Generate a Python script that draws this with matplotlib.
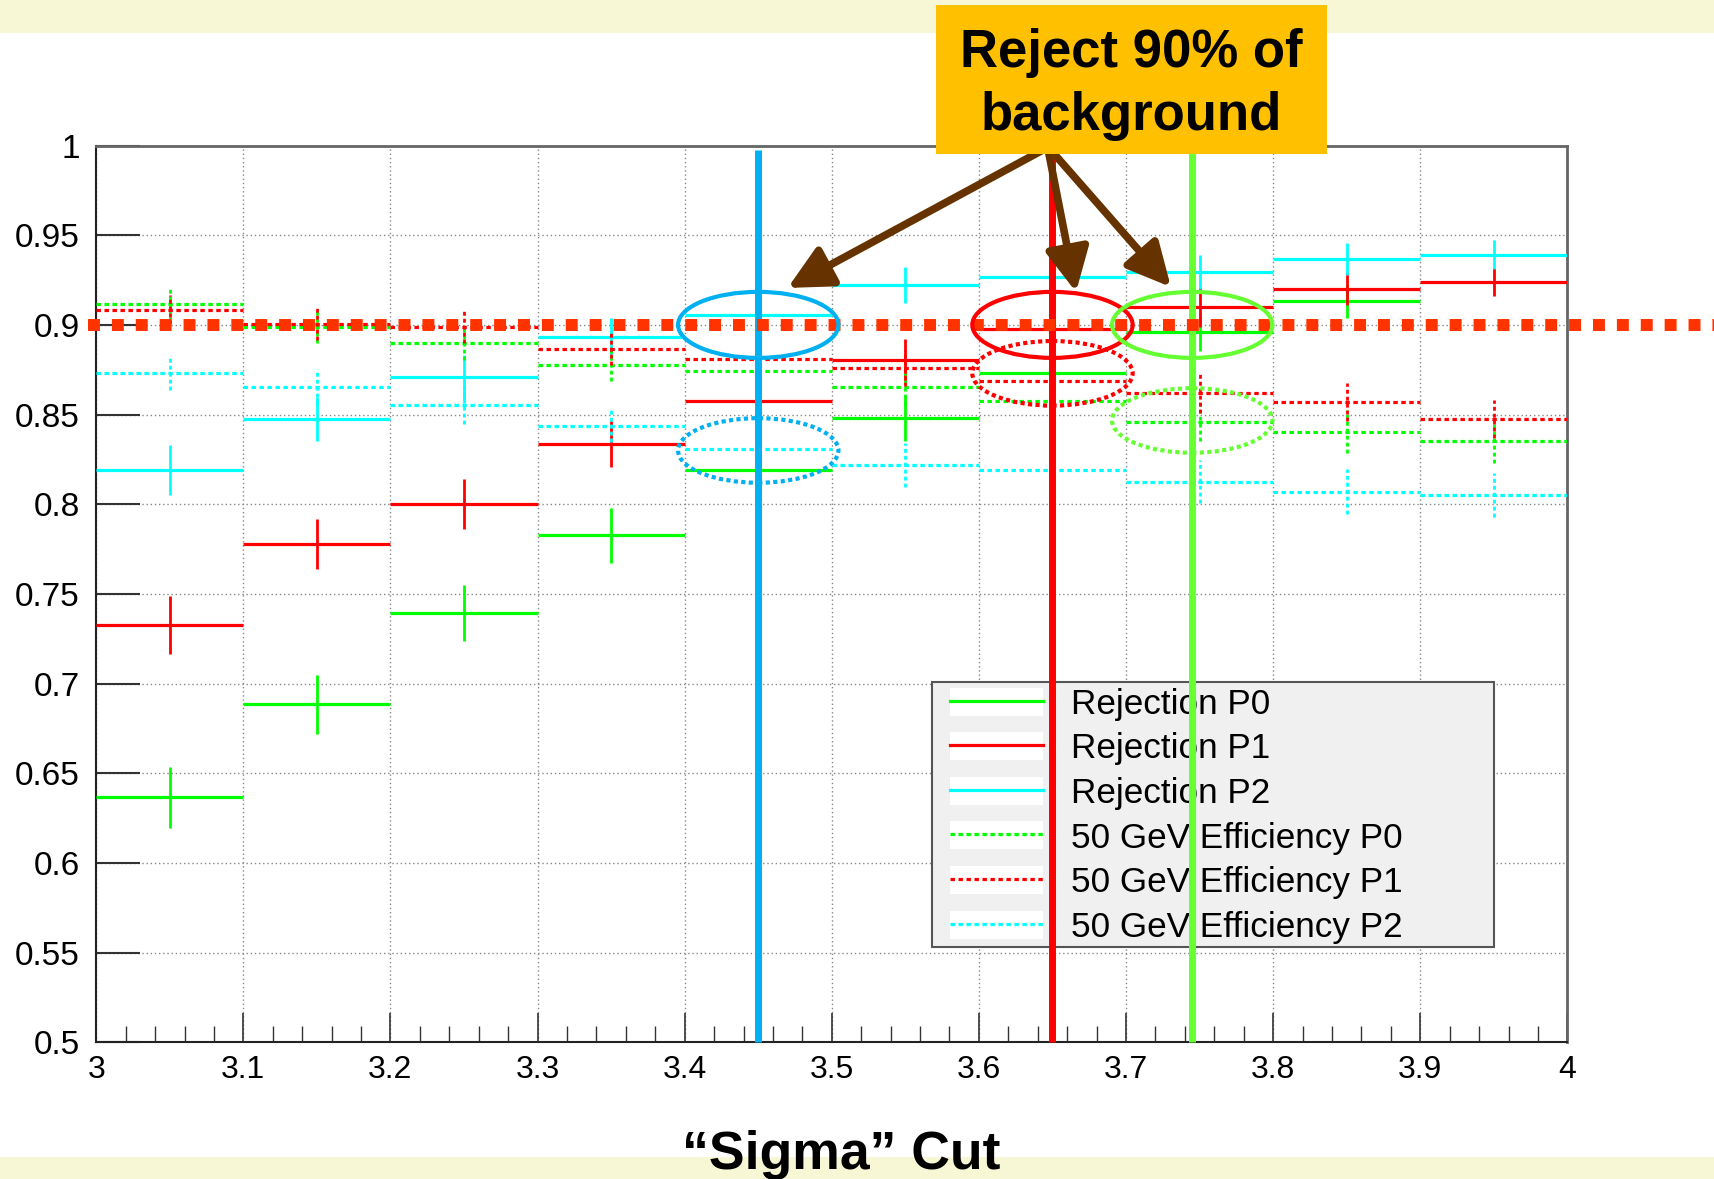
import matplotlib.pyplot as plt
from matplotlib.patches import Ellipse, Rectangle, FancyArrowPatch
from matplotlib.lines import Line2D
from matplotlib.ticker import MultipleLocator
import numpy as np

plt.rcParams['font.family'] = ['Liberation Sans', 'DejaVu Sans']

# sigma cut bins
sigma_edges = [3.0, 3.1, 3.2, 3.3, 3.4, 3.5, 3.6, 3.7, 3.8, 3.9, 4.0]

# background rejection per sigma cut
rej_p0 = [0.6367, 0.6885, 0.7393, 0.7826, 0.8191, 0.8479, 0.8732, 0.8960, 0.9133, np.nan]
rej_p0_err = [0.017, 0.0165, 0.0156, 0.0153, 0.014, 0.0125, 0.012, 0.0105, 0.0097, np.nan]
rej_p1 = [0.7326, 0.7777, 0.8000, 0.8336, 0.8576, 0.8805, 0.8975, 0.9100, 0.9202, 0.9239]
rej_p1_err = [0.016, 0.014, 0.014, 0.013, 0.012, 0.0116, 0.011, 0.011, 0.0093, 0.008]
rej_p2 = [0.8193, 0.8475, 0.8707, 0.8933, 0.9055, 0.9222, 0.9265, 0.9294, 0.9368, 0.9392]
rej_p2_err = [0.014, 0.0125, 0.0125, 0.0105, 0.010, 0.010, 0.0095, 0.0093, 0.0088, 0.0083]

# 50 GeV signal efficiency per sigma cut
eff_p0 = [0.9114, 0.8990, 0.8897, 0.8775, 0.8744, 0.8656, 0.8577, 0.8460, 0.8404, 0.8352]
eff_p0_err = [0.009, 0.009, 0.009, 0.009, 0.010, 0.010, 0.011, 0.011, 0.012, 0.012]
eff_p1 = [0.9085, 0.9005, 0.8990, 0.8868, 0.8810, 0.8758, 0.8689, 0.8618, 0.8570, 0.8478]
eff_p1_err = [0.008, 0.009, 0.009, 0.009, 0.010, 0.010, 0.011, 0.011, 0.0106, 0.0106]
eff_p2 = [0.8731, 0.8656, 0.8553, 0.8436, 0.8306, 0.8219, 0.8191, 0.8126, 0.8070, 0.8052]
eff_p2_err = [0.0093, 0.0097, 0.0105, 0.009, 0.011, 0.012, 0.012, 0.012, 0.0125, 0.0125]

labels = ['Rejection P0', 'Rejection P1', 'Rejection P2',
          '50 GeV Efficiency P0', '50 GeV Efficiency P1', '50 GeV Efficiency P2']

# 90% rejection working points
cut_level = 0.9
cut_points = [3.45, 3.65, 3.745]
cut_colors = ['#00B0F0', '#FF0000', '#66FF33']
eff_at_cut = [0.830, 0.873, 0.8467]

x_ticks = [3.0, 3.1, 3.2, 3.3, 3.4, 3.5, 3.6, 3.7, 3.8, 3.9, 4.0]
x_ticklabels = ['3', '3.1', '3.2', '3.3', '3.4', '3.5', '3.6', '3.7', '3.8', '3.9', '4']
y_ticks = [0.5, 0.55, 0.6, 0.65, 0.7, 0.75, 0.8, 0.85, 0.9, 0.95, 1.0]
y_ticklabels = ['0.5', '0.55', '0.6', '0.65', '0.7', '0.75', '0.8', '0.85', '0.9', '0.95', '1']

fig = plt.figure(figsize=(17.15, 11.79), dpi=100)
fig.patch.set_facecolor('white')
ax = fig.add_axes([0.05612, 0.11586, 0.85779, 0.76073])

edges = np.array(sigma_edges)
lo, hi = edges[:-1], edges[1:]
centers = 0.5 * (lo + hi)

dots = (0, (1.4, 1.1))
series = [
    (rej_p0, rej_p0_err, '#00FF00', 'solid'),
    (rej_p1, rej_p1_err, '#FF0000', 'solid'),
    (rej_p2, rej_p2_err, '#00FFFF', 'solid'),
    (eff_p0, eff_p0_err, '#00FF00', dots),
    (eff_p1, eff_p1_err, '#FF0000', dots),
    (eff_p2, eff_p2_err, '#00FFFF', dots),
]
handles = []
for (vals, errs, col, ls), lab in zip(series, labels):
    v = np.array(vals)
    e = np.array(errs)
    ax.hlines(v, lo, hi, colors=col, linestyles=ls, lw=2.3, zorder=3)
    ax.vlines(centers, v - e, v + e, colors=col, linestyles=ls, lw=2.0, zorder=3)
    handles.append((Rectangle((0, 0), 1, 1, facecolor='white', edgecolor='none'),
                    Line2D([], [], color=col, linestyle=ls, lw=2.3)))

ax.set_xlim(3, 4)
ax.set_ylim(0.5, 1)
ax.set_xticks(x_ticks, x_ticklabels)
ax.set_yticks(y_ticks, y_ticklabels)
ax.xaxis.set_minor_locator(MultipleLocator(0.02))
ax.tick_params(axis='y', direction='in', length=32, width=1.5, color='#333333',
               labelsize=24, pad=12)
ax.tick_params(axis='x', which='major', direction='in', length=21, width=1.2,
               color='#333333', labelsize=23, pad=9)
ax.tick_params(axis='x', which='minor', direction='in', length=11.5, width=1.0,
               color='#333333')
ax.grid(True, which='major', color='#888888', linestyle=(0, (1, 2)), lw=1.0)
ax.set_axisbelow(True)
for side in ['left', 'bottom']:
    ax.spines[side].set_color('#222222')
    ax.spines[side].set_linewidth(1.5)
for side in ['top', 'right']:
    ax.spines[side].set_color('#666666')
    ax.spines[side].set_linewidth(2.0)

# legend box drawn separately so it can be wider than its entries
ax.add_patch(Rectangle((0.568, 0.1064), 0.382, 0.2954, transform=ax.transAxes,
                       facecolor='#F0F0F0', edgecolor='#555555', lw=1.5, zorder=4.5))
leg = ax.legend(handles, labels, loc='upper left', bbox_to_anchor=(0.5805, 0.3956),
                fontsize=25.3, frameon=False, handlelength=2.65,
                handleheight=0.85, handletextpad=0.78, labelspacing=0.325,
                borderpad=0, borderaxespad=0)
leg.set_zorder(5)

# 90% cut level across the plot
ax.hlines(cut_level, 2.9944, 4.1004, colors='#FF3300', lw=8.6,
          linestyles=(0, (1, 1)), zorder=8, clip_on=False)

# cut positions with their rejection / efficiency circles
for xc, col, ye in zip(cut_points, cut_colors, eff_at_cut):
    ax.vlines(xc, 0.5, 0.9975, colors=col, lw=5, zorder=7, clip_on=False)
    ax.add_patch(Ellipse((xc, cut_level), 0.109, 0.0368, fill=False,
                         edgecolor=col, lw=3.0, zorder=9))
    ax.add_patch(Ellipse((xc, ye), 0.109, 0.036, fill=False, edgecolor=col,
                         lw=3.0, linestyle=(0, (1, 0.8)), zorder=9))

arrow_starts = [(3.646, 0.9986), (3.6475, 0.9958), (3.653, 0.9936)]
arrow_tips = [(3.470, 0.9206), (3.666, 0.9183), (3.7305, 0.9211)]
for a, b in zip(arrow_starts, arrow_tips):
    ax.add_patch(FancyArrowPatch(a, b, arrowstyle='-|>,head_length=1.1,head_width=0.55',
                                 mutation_scale=24, lw=5.5, color='#663300',
                                 shrinkA=0, shrinkB=0, zorder=10, clip_on=False))

# page bands, callout and axis title
fig.add_artist(Rectangle((0, 0.972), 1, 0.028, transform=fig.transFigure,
                         facecolor='#F7F7D5', edgecolor='none', zorder=1))
fig.add_artist(Rectangle((0, 0), 1, 0.0187, transform=fig.transFigure,
                         facecolor='#F7F7D5', edgecolor='none', zorder=1))
fig.add_artist(Rectangle((0.5458, 0.8694), 0.228, 0.1264, transform=fig.transFigure,
                         facecolor='#FFC000', edgecolor='none', zorder=10))
fig.text(0.6598, 0.9284, 'Reject 90% of\nbackground', ha='center', va='center',
         fontsize=38, weight='bold', linespacing=1.35, zorder=11)
fig.text(0.4904, 0.0200, '\u201cSigma\u201d Cut', ha='center', va='center',
         fontsize=38.5, weight='bold', zorder=11)

fig.savefig('out.png', dpi=100)
